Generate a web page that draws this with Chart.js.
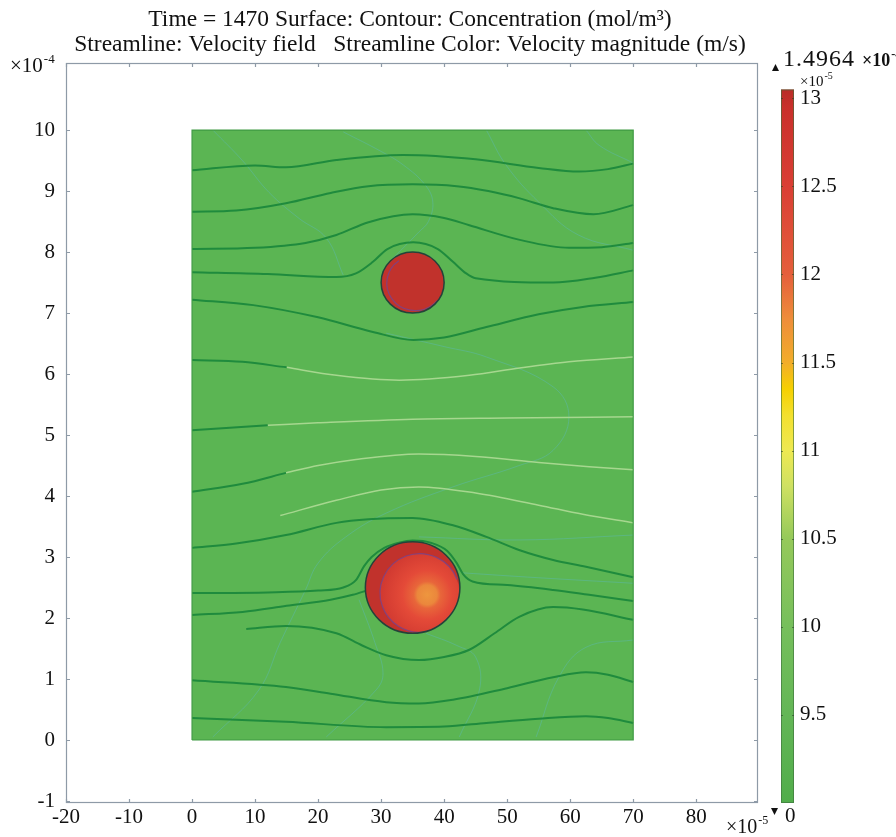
<!DOCTYPE html>
<html>
<head>
<meta charset="utf-8">
<script src="https://cdn.jsdelivr.net/npm/chart.js@4.4.1/dist/chart.umd.min.js"></script>
<style>
  html, body { margin: 0; padding: 0; background: #ffffff; }
  #wrap { width: 896px; height: 837px; }
</style>
</head>
<body>
<div id="wrap"><canvas id="c" width="896" height="837"></canvas></div>
<script>
// x axis in units of 1e-5 m, y axis in units of 1e-4 m
const xTicks = [-20, -10, 0, 10, 20, 30, 40, 50, 60, 70, 80];
const yTicks = [-1, 0, 1, 2, 3, 4, 5, 6, 7, 8, 9, 10];
const xRange = [-20, 89.8];
const yRange = [-1.033, 11.1];

// computational domain (channel)
const domainX = [0, 70];
const domainY = [0, 10];

// particles: centre and radius (radius in 1e-5 m)
const particleX = [35, 35];
const particleY = [7.5, 2.5];
const particleR = [5, 7.5];
// concentration peak inside the lower particle
const hotSpot = [37.3, 2.38];

// colour legend (x 1e-5)
const cbTicks = [9.5, 10, 10.5, 11, 11.5, 12, 12.5, 13];
const cbLabels = ['9.5', '10', '10.5', '11', '11.5', '12', '12.5', '13'];
const cbRange = [9.0, 13.2];
const cbBar = [9.0, 13.05];
const cbMaxText = '1.4964';
const cbMinText = '0';

// streamlines of the velocity field, [x, y]
const sA = [[0,9.34],[10,9.42],[14.9,9.39],[22.9,9.51],[33.5,9.59],[45,9.52],[55,9.38],[61.4,9.32],[66,9.36],[70,9.45]];
const sB = [[0,8.66],[7,8.68],[14.9,8.8],[22,8.97],[28,9.08],[35,9.11],[42,9.08],[47,9.0],[52,8.88],[57.3,8.72],[63.7,8.62],[70,8.77]];
const sC = [[0,8.05],[10,8.07],[18,8.15],[22.9,8.28],[28,8.49],[35,8.62],[40,8.56],[44,8.44],[52,8.2],[59.8,8.07],[65,8.08],[70,8.15]];
const sD = [[0,7.67],[12,7.64],[22.9,7.59],[26,7.65],[28.7,7.84],[31,8.05],[35.1,8.16],[39,8.05],[41.4,7.84],[43.5,7.65],[45,7.57],[57.3,7.5],[64,7.58],[70,7.7]];
const sE = [[0,7.22],[9.7,7.13],[20,6.93],[28.7,6.69],[35.1,6.56],[40,6.6],[46.7,6.77],[55,6.98],[62,7.1],[70,7.18]];
const sF1 = [[0,6.23],[8,6.2],[15,6.11]];
const sF2 = [[15,6.11],[22.9,5.98],[32.9,5.9],[44,5.98],[52,6.1],[59.8,6.2],[70,6.28]];
const sG1 = [[0,5.08],[6,5.12],[12,5.16]];
const sG2 = [[12,5.16],[20,5.2],[35,5.26],[50,5.28],[70,5.3]];
const sH1 = [[0,4.07],[8,4.2],[14.9,4.38]];
const sH2 = [[14.9,4.38],[20,4.5],[26,4.6],[36,4.69],[45,4.65],[55,4.55],[63,4.48],[70,4.43]];
const sI = [[14,3.68],[22.9,3.93],[30,4.1],[36,4.15],[45,4.05],[55,3.85],[62,3.7],[70,3.56]];
const sJ = [[0,3.15],[7,3.22],[14.9,3.36],[22.9,3.56],[28,3.62],[35,3.64],[41.4,3.52],[46.7,3.33],[52,3.11],[57.3,2.95],[62.5,2.84],[70,2.67]];
const sK = [[0,2.41],[12,2.42],[20,2.45],[24,2.5],[26,2.62],[27.3,2.85],[28.5,3.0],[30.5,3.15],[33,3.24],[35,3.27],[38,3.23],[40.5,3.1],[42,2.9],[43,2.72],[44.5,2.6],[50,2.54],[57.3,2.46],[63,2.38],[70,2.28]];
const sM = [[0,2.05],[8,2.1],[15,2.2],[22,2.3],[25.5,2.38],[28,2.46]];
const sL = [[8.6,1.82],[14.9,1.87],[22.9,1.75],[27,1.55],[30.8,1.39],[36,1.31],[40,1.36],[44,1.48],[48,1.75],[51.9,2.02],[57.3,2.18],[62,2.14],[70,1.97]];
const sN = [[0,0.98],[14.9,0.87],[22,0.76],[30.8,0.62],[36,0.6],[41.4,0.66],[50,0.85],[57.3,1.03],[62.5,1.11],[66,1.07],[70,0.95]];
const sO = [[0,0.36],[14.9,0.3],[30.8,0.21],[40,0.22],[46.7,0.28],[55,0.35],[62.5,0.39],[66,0.36],[70,0.28]];

// slow streamlines
const f1 = [[3.3,10],[8,9.5],[12.2,8.98],[17,8.55],[21.3,8.23],[24,7.62]];
const f2 = [[24,9.97],[30,9.65],[33.5,9.43],[37,9.1],[38.2,8.82],[37.5,8.5],[36,8.33],[31.9,7.9]];
const f3 = [[46.7,10],[49.8,9.43],[55,8.82],[61.3,8.28],[70,8.03]];
const f4 = [[62.5,10],[64.6,9.75],[70,9.46]];
const f5 = [[30.8,6.67],[40,6.45],[46.7,6.28],[57.3,5.79],[59.8,5.3],[57.3,4.75],[51.9,4.5],[41.4,4.15],[30.8,3.72],[24.4,3.33],[20,2.9],[18,2.46],[14,1.6],[10.6,0.82],[3.3,0.05]];
const f6 = [[26.5,2.3],[29,1.6],[30.3,1.1],[29.2,0.82],[21.3,0.05]];
const f7 = [[37.1,1.75],[42,1.55],[45,1.36],[45.6,0.82],[42.4,0.05]];
const f8 = [[70,1.64],[62.5,1.52],[58.2,1.03],[54.6,0.05]];
const f9 = [[36,3.33],[51.9,3.28],[70,3.36]];
const f10 = [[43,2.74],[55,2.66],[70,2.57]];

const darkLines = [sA, sB, sC, sD, sE, sF1, sG1, sH1, sJ, sK, sM, sL, sN, sO];
const paleLines = [sF2, sG2, sH2, sI];
const slowLines = [f1, f2, f3, f4, f5, f6, f7, f8, f9, f10];

const SERIF = '"Liberation Serif", "Times New Roman", serif';
const GREEN = '#5bb553';

const toPts = arr => arr.map(p => ({ x: p[0], y: p[1] }));

const datasets = [];
darkLines.forEach(l => datasets.push({
  data: toPts(l), showLine: true, pointRadius: 0, borderColor: '#1f8b3d', borderWidth: 2,
  cubicInterpolationMode: 'monotone', fill: false, order: 1
}));
paleLines.forEach(l => datasets.push({
  data: toPts(l), showLine: true, pointRadius: 0, borderColor: '#a6d78f', borderWidth: 1.5,
  cubicInterpolationMode: 'monotone', fill: false, order: 2
}));
slowLines.forEach(l => datasets.push({
  data: toPts(l), showLine: true, pointRadius: 0, borderColor: 'rgba(92,186,196,0.4)', borderWidth: 1,
  tension: 0.4, fill: false, order: 3
}));
// domain surface: top edge filled down to y = 0
datasets.push({
  data: [{ x: domainX[0], y: domainY[1] }, { x: domainX[1], y: domainY[1] }],
  showLine: true, pointRadius: 0, borderWidth: 0, borderColor: 'rgba(0,0,0,0)',
  backgroundColor: GREEN, fill: 'origin', order: 20
});
// domain outline
datasets.push({
  data: [{ x: domainX[0], y: domainY[0] }, { x: domainX[1], y: domainY[0] }, { x: domainX[1], y: domainY[1] },
         { x: domainX[0], y: domainY[1] }, { x: domainX[0], y: domainY[0] }],
  showLine: true, pointRadius: 0, borderWidth: 1.2, borderColor: '#3f9a43', tension: 0, fill: false, order: 0
});

function drawSup(ctx, x, yBase, base, sup, size, supSize, weight) {
  ctx.font = (weight || '') + ' ' + size + 'px ' + SERIF;
  ctx.textAlign = 'left';
  ctx.textBaseline = 'alphabetic';
  ctx.fillText(base, x, yBase);
  const w = ctx.measureText(base).width;
  ctx.font = (weight || '') + ' ' + supSize + 'px ' + SERIF;
  ctx.fillText(sup, x + w + 1, yBase - size * 0.45);
}

const decor = {
  id: 'decor',
  afterDatasetsDraw(chart) {
    const { ctx, scales: { x, y } } = chart;
    particleX.forEach((cx, i) => {
      const px = x.getPixelForValue(cx), py = y.getPixelForValue(particleY[i]);
      const rx = x.getPixelForValue(cx + particleR[i]) - px;
      const ry = py - y.getPixelForValue(particleY[i] + particleR[i] / 10);
      ctx.save();
      ctx.beginPath();
      ctx.ellipse(px, py, rx, ry, 0, 0, Math.PI * 2);
      ctx.fillStyle = '#c1322c';
      ctx.fill();
      if (i === 1) {
        const ix = px + rx * 0.15, iy = py + ry * 0.12;
        const hx = x.getPixelForValue(hotSpot[0]), hy = y.getPixelForValue(hotSpot[1]);
        ctx.save();
        ctx.beginPath();
        ctx.ellipse(px, py, rx, ry, 0, 0, Math.PI * 2);
        ctx.clip();
        const g = ctx.createRadialGradient(hx, hy, 0, hx, hy, rx * 0.95);
        g.addColorStop(0, '#ee963e');
        g.addColorStop(0.22, '#eb873c');
        g.addColorStop(0.3, '#e8663a');
        g.addColorStop(0.55, '#e44a38');
        g.addColorStop(1, '#d23a31');
        ctx.beginPath();
        ctx.ellipse(ix, iy, rx * 0.84, ry * 0.86, 0, 0, Math.PI * 2);
        ctx.fillStyle = g;
        ctx.fill();
        ctx.beginPath();
        ctx.ellipse(ix, iy, rx * 0.84, ry * 0.86, 0, 340 * Math.PI / 180, 85 * Math.PI / 180, true);
        ctx.strokeStyle = 'rgba(112,70,150,0.75)';
        ctx.lineWidth = 1.2;
        ctx.stroke();
        ctx.restore();
      } else {
        ctx.beginPath();
        ctx.ellipse(px + rx * 0.08, py + ry * 0.02, rx * 0.9, ry * 0.9, 0, 235 * Math.PI / 180, 40 * Math.PI / 180, true);
        ctx.strokeStyle = 'rgba(112,70,150,0.75)';
        ctx.lineWidth = 1.2;
        ctx.stroke();
      }
      ctx.beginPath();
      ctx.ellipse(px, py, rx, ry, 0, 0, Math.PI * 2);
      ctx.strokeStyle = '#24433a';
      ctx.lineWidth = 1.5;
      ctx.stroke();
      ctx.restore();
    });
  },
  afterDraw(chart) {
    const { ctx, chartArea: a, scales: { x, y, cb } } = chart;
    ctx.save();
    // plot frame with inward ticks
    ctx.strokeStyle = '#8e9aa7';
    ctx.lineWidth = 1.2;
    ctx.strokeRect(a.left + 0.5, a.top + 0.5, a.right - a.left - 1, a.bottom - a.top - 1);
    ctx.beginPath();
    xTicks.forEach(v => {
      const px = Math.round(x.getPixelForValue(v)) + 0.5;
      ctx.moveTo(px, a.bottom); ctx.lineTo(px, a.bottom - 4);
      ctx.moveTo(px, a.top); ctx.lineTo(px, a.top + 4);
    });
    yTicks.forEach(v => {
      const py = Math.round(y.getPixelForValue(v)) + 0.5;
      ctx.moveTo(a.left, py); ctx.lineTo(a.left + 4, py);
      ctx.moveTo(a.right, py); ctx.lineTo(a.right - 4, py);
    });
    ctx.stroke();

    // colour legend bar
    const bx = cb.left + 23, bw = 13;
    const bTop = cb.getPixelForValue(cbBar[1]), bBot = cb.getPixelForValue(cbBar[0]);
    const grad = ctx.createLinearGradient(0, bBot, 0, bTop);
    const stops = [[9.0,'#51ad4b'],[9.5,'#63b656'],[10,'#76bf5c'],[10.5,'#95c95a'],[10.8,'#cfe162'],[11,'#eee952'],[11.2,'#f3e02e'],[11.35,'#f6d000'],[11.5,'#f2ad2a'],[11.75,'#ee8d3a'],[12,'#e55f3b'],[12.5,'#da3f34'],[12.95,'#c9302b'],[13.05,'#b82d28']];
    stops.forEach(s => grad.addColorStop((s[0] - cbBar[0]) / (cbBar[1] - cbBar[0]), s[1]));
    ctx.fillStyle = grad;
    ctx.fillRect(bx, bTop, bw, bBot - bTop);
    ctx.strokeStyle = 'rgba(60,110,60,0.6)';
    ctx.lineWidth = 1;
    ctx.strokeRect(bx + 0.5, bTop + 0.5, bw - 1, bBot - bTop - 1);
    ctx.beginPath();
    ctx.strokeStyle = 'rgba(40,60,40,0.55)';
    cbTicks.forEach(v => {
      const py = Math.round(cb.getPixelForValue(v)) + 0.5;
      ctx.moveTo(bx, py); ctx.lineTo(bx + 2, py);
      ctx.moveTo(bx + bw, py); ctx.lineTo(bx + bw - 2, py);
    });
    ctx.stroke();

    ctx.fillStyle = '#111';
    // titles
    const cxTitle = (a.left + a.right) / 2 - 2;
    ctx.font = '23.5px ' + SERIF;
    ctx.textAlign = 'center';
    ctx.textBaseline = 'middle';
    ctx.fillText('Time = 1470 Surface: Contour: Concentration (mol/m³)', cxTitle, 20);
    ctx.fillText('Streamline: Velocity field   Streamline Color: Velocity magnitude (m/s)', cxTitle, 45);

    // axis multipliers
    drawSup(ctx, 10, 72, '×10', '-4', 21, 13);
    drawSup(ctx, 726, 833, '×10', '-5', 20, 12);

    // legend extremes
    ctx.beginPath();
    ctx.moveTo(772, 71); ctx.lineTo(779, 71); ctx.lineTo(775.5, 64); ctx.closePath();
    ctx.fill();
    ctx.beginPath();
    ctx.moveTo(771, 808); ctx.lineTo(778, 808); ctx.lineTo(774.5, 815); ctx.closePath();
    ctx.fill();
    ctx.font = '24px ' + SERIF;
    ctx.textAlign = 'left';
    ctx.textBaseline = 'alphabetic';
    ctx.letterSpacing = '1px';
    ctx.fillText(cbMaxText, 783, 66);
    ctx.letterSpacing = '0px';
    ctx.font = '21px ' + SERIF;
    ctx.fillText(cbMinText, 785, 822);
    drawSup(ctx, 862, 66, '×10', '-4', 18, 12, 'bold');
    drawSup(ctx, 800, 86, '×10', '-5', 15, 10);
    ctx.restore();
  }
};

new Chart(document.getElementById('c'), {
  type: 'scatter',
  data: { datasets },
  options: {
    responsive: false,
    animation: false,
    layout: { padding: { top: 63, left: 0, right: 0, bottom: 0 } },
    plugins: { legend: { display: false }, tooltip: { enabled: false }, title: { display: false } },
    scales: {
      x: {
        type: 'linear', min: xRange[0], max: xRange[1],
        grid: { display: false, drawTicks: false }, border: { display: false },
        afterBuildTicks: s => { s.ticks = xTicks.map(v => ({ value: v })); },
        afterFit: s => { s.height = 34; },
        ticks: { font: { family: SERIF, size: 21 }, color: '#111', padding: 2, maxRotation: 0,
                 callback: v => String(v) }
      },
      y: {
        type: 'linear', min: yRange[0], max: yRange[1],
        grid: { display: false, drawTicks: true, tickLength: 11 }, border: { display: false },
        afterBuildTicks: s => { s.ticks = yTicks.map(v => ({ value: v })); },
        afterFit: s => { s.width = 66; },
        ticks: { font: { family: SERIF, size: 21 }, color: '#111', padding: 0,
                 callback: v => String(v) }
      },
      cb: {
        type: 'linear', position: 'right', axis: 'y', min: cbRange[0], max: cbRange[1],
        grid: { display: false, drawTicks: true, tickLength: 42 }, border: { display: false },
        afterBuildTicks: s => { s.ticks = cbTicks.map(v => ({ value: v })); },
        afterFit: s => { s.width = 138; },
        ticks: { font: { family: SERIF, size: 21 }, color: '#111', padding: 0,
                 callback: (v, i) => cbLabels[i] }
      }
    }
  },
  plugins: [decor]
});
</script>
</body>
</html>
